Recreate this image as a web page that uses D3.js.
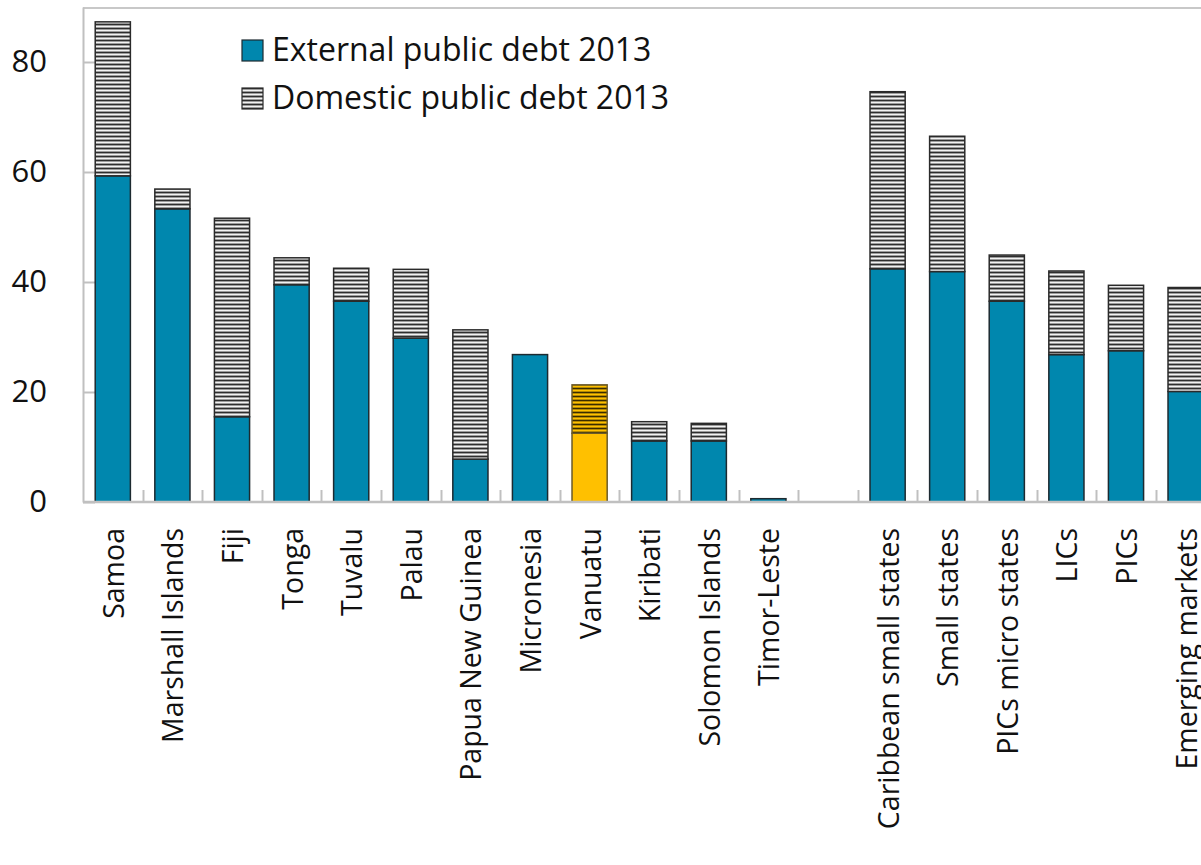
<!DOCTYPE html>
<html>
<head>
<meta charset="utf-8">
<script src="https://cdn.jsdelivr.net/npm/d3@7"></script>
<style>
  html, body { margin: 0; padding: 0; background: #fff; overflow: hidden; }
  svg { display: block; }
  text { font-family: "Open Sans", "Noto Sans", sans-serif; fill: #111; }
</style>
</head>
<body>
<svg id="chart" width="1201" height="865"></svg>
<script>
// ---- data ----
const categories = ["Samoa", "Marshall Islands", "Fiji", "Tonga", "Tuvalu", "Palau",
  "Papua New Guinea", "Micronesia", "Vanuatu", "Kiribati", "Solomon Islands", "Timor-Leste",
  "", "Caribbean small states", "Small states", "PICs micro states", "LICs", "PICs", "Emerging markets"];
const externalDebt = [59.3, 53.3, 15.5, 39.5, 36.5, 29.8, 7.8, 26.8, 12.5, 11.1, 11.1, 0.6,
  null, 42.4, 41.9, 36.5, 26.8, 27.5, 20.1];
const domesticDebt = [28.0, 3.6, 36.1, 4.9, 6.0, 12.5, 23.5, 0, 8.8, 3.5, 3.2, 0,
  null, 32.2, 24.6, 8.4, 15.2, 11.9, 18.9];
const highlight = "Vanuatu";
const yTicks = [0, 20, 40, 60, 80];
const legendLabels = ["External public debt 2013", "Domestic public debt 2013"];

// ---- layout ----
const svg = d3.select("#chart");
const axisX = 83, baseY = 502, topY = 7;
const step = 59.6;
const x = d3.scaleBand().domain(categories)
  .range([axisX, axisX + step * categories.length])
  .paddingInner(0.41).paddingOuter(0.205);
const y = d3.scaleLinear().domain([0, 90]).range([baseY, topY]);

// patterns
const defs = svg.append("defs");
function hatch(id, bg, dark, light) {
  const p = defs.append("pattern").attr("id", id).attr("patternUnits", "userSpaceOnUse")
    .attr("width", 8).attr("height", 4);
  p.append("rect").attr("width", 8).attr("height", 4).attr("fill", bg);
  p.append("rect").attr("y", 0).attr("width", 8).attr("height", 1).attr("fill", dark);
  p.append("rect").attr("y", 2).attr("width", 8).attr("height", 1).attr("fill", light);
}
hatch("hatchGray", "#9c9c9c", "#2e2e2e", "#f2f2f2");
hatch("hatchYellow", "#b58a00", "#3a2c00", "#ffc000");

const teal = "#0087AE";
const yellow = "#FFC000";

// plot frame: top border
svg.append("line").attr("x1", axisX).attr("x2", 1201).attr("y1", topY + 1).attr("y2", topY + 1)
  .attr("stroke", "#c8c8c8").attr("stroke-width", 2);

// y axis
const yAxis = d3.axisLeft(y).tickValues(yTicks).tickSizeInner(-12).tickSizeOuter(0).tickPadding(36)
  .tickFormat(d3.format("d"));
const gy = svg.append("g").attr("transform", `translate(${axisX},0)`).call(yAxis);
gy.select(".domain").attr("stroke", "#c0c0c0").attr("stroke-width", 2);
gy.selectAll(".tick line").attr("stroke", "#c0c0c0").attr("stroke-width", 2);
gy.selectAll(".tick text").style("font-size", "31px").attr("fill", "#111")
  .style("font-family", "'Open Sans', sans-serif");

// bars
const rows = categories.map((c, i) => ({ c, ext: externalDebt[i], dom: domesticDebt[i] }))
  .filter(d => d.ext !== null);
const bars = svg.append("g");
rows.forEach(d => {
  const isH = d.c === highlight;
  bars.append("rect")
    .attr("x", x(d.c)).attr("width", x.bandwidth())
    .attr("y", y(d.ext)).attr("height", y(0) - y(d.ext))
    .attr("fill", isH ? yellow : teal)
    .attr("stroke", isH ? "#6b5a2a" : "#1d2a30").attr("stroke-width", 1.5);
  if (d.dom > 0) {
    bars.append("rect")
      .attr("x", x(d.c)).attr("width", x.bandwidth())
      .attr("y", y(d.ext + d.dom)).attr("height", y(d.ext) - y(d.ext + d.dom))
      .attr("fill", isH ? "url(#hatchYellow)" : "url(#hatchGray)")
      .attr("stroke", isH ? "#6b5a2a" : "#2a2a2a").attr("stroke-width", 1.5);
  }
});

// x axis baseline
svg.append("line").attr("x1", axisX).attr("x2", 1201).attr("y1", baseY).attr("y2", baseY)
  .attr("stroke", "#c0c0c0").attr("stroke-width", 2.5);
// category ticks (between categories, pointing up)
categories.slice(1).forEach(c => {
  const tx = Math.round(x(c) - x.step() * x.paddingInner() / 2) + 0.5;
  svg.append("line").attr("x1", tx).attr("x2", tx).attr("y1", baseY).attr("y2", baseY - 12)
    .attr("stroke", "#c0c0c0").attr("stroke-width", 2);
});

// x labels
svg.append("g").selectAll("text").data(categories.filter(c => c !== "")).join("text")
  .attr("transform", c => `translate(${x(c) + x.bandwidth() / 2 + 1},${baseY + 26}) rotate(-90)`)
  .attr("text-anchor", "end").attr("dy", "0.35em")
  .style("font-size", "28.5px")
  .text(c => c);

// legend
const legend = svg.append("g");
const lx = 242, ly = [40, 88];
legend.append("rect").attr("x", lx).attr("y", ly[0]).attr("width", 21).attr("height", 21)
  .attr("fill", teal).attr("stroke", "#1d2a30").attr("stroke-width", 1.2);
legend.append("rect").attr("x", lx).attr("y", ly[1]).attr("width", 21).attr("height", 21)
  .attr("fill", "url(#hatchGray)").attr("stroke", "#2a2a2a").attr("stroke-width", 1.2);
legendLabels.forEach((t, i) => {
  legend.append("text").attr("x", lx + 30).attr("y", ly[i] + 21)
    .style("font-size", "32px").text(t);
});
</script>
</body>
</html>
